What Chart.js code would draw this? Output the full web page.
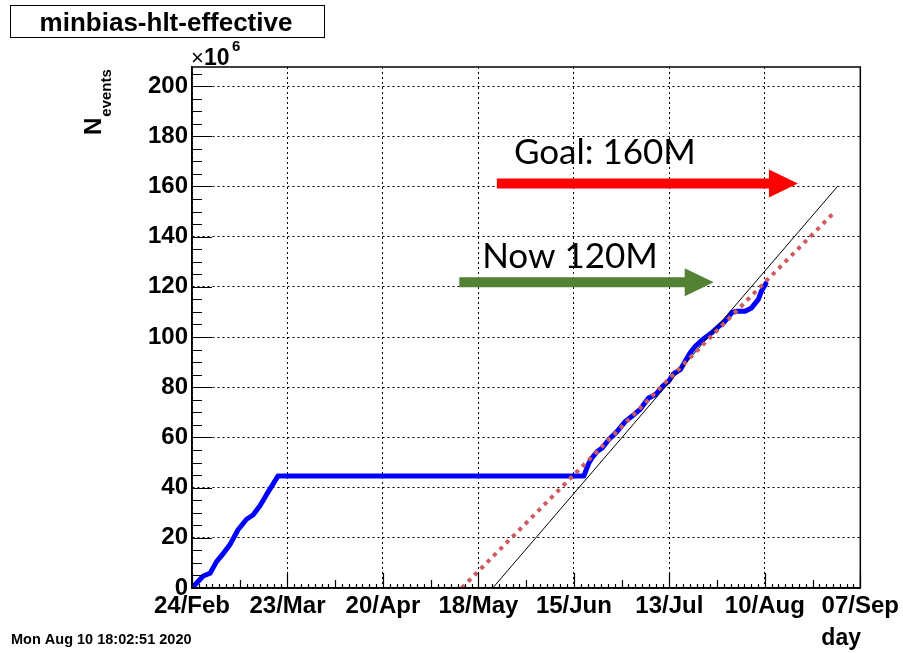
<!DOCTYPE html>
<html><head><meta charset="utf-8">
<script src="https://cdn.jsdelivr.net/npm/chart.js@4/dist/chart.umd.min.js"></script>
<style>html,body{margin:0;padding:0;background:#fff}#wrap{width:903px;height:653px;position:relative}</style>
</head><body><div id="wrap"><canvas id="c" width="903" height="653"></canvas></div>
<script>
// ---- data (x = days since 24/Feb/2020, y = events in units of 10^6) ----
const dateLabels = ['24/Feb','23/Mar','20/Apr','18/May','15/Jun','13/Jul','10/Aug','07/Sep'];
const yTickValues = [0,20,40,60,80,100,120,140,160,180,200];
const blueDays = [0,3.3,5.3,7.2,9.2,11.1,13.5,16.0,17.9,19.9,21.8,23.8,25.2,114.9,116.4,117.3,118.8,120.3,122.2,124.7,127.1,129.0,131.5,133.9,135.9,137.8,139.8,141.2,143.2,144.6,146.1,147.6,149.5,152.4,154.4,156.3,158.3,159.7,162.2,164.1,166.1,167.0,168.3];
const blueEvents = [0,4.8,5.9,10.5,13.8,17.2,23.2,27.4,29.1,32.7,37.1,41.5,44.6,44.6,49.8,51.8,54.4,55.8,59.1,62.4,66.4,68.4,71.3,75.7,77.0,80.1,82.4,85.3,87.0,90.3,93.7,96.3,98.7,101.7,104.1,106.3,109.7,110.3,110.3,111.6,115.0,118.3,121.3];
const goalLineDays = [88.2, 189.3];
const goalLineEvents = [0, 160];
const fitLineDays = [79.1, 188.3];
const fitLineEvents = [0, 149.6];
const arrowTexts = ['Goal: 160M', 'Now 120M'];
const arrowLevels = [161.2, 121.8];
const arrowStartDays = [89.4, 78.4];
const arrowEndDays = [177.7, 153.0];
const textDays = [94.4, 85.1];
const textLevels = [168.9, 127.6];
const titleText = 'minbias-hlt-effective';
const yTitleMain = 'N';
const yTitleSub = 'events';
const xTitle = 'day';
const stampText = 'Mon Aug 10 18:02:51 2020';

const toXY = (xs, ys) => xs.map((x, i) => ({x: x, y: ys[i]}));
const ROOTFONT = "'Liberation Sans', Arial, sans-serif";

const extrasPlugin = {
  id: 'extras',
  afterDraw(chart) {
    const ctx = chart.ctx;
    const a = chart.chartArea;
    const xs = chart.scales.x, ys = chart.scales.y;
    ctx.save();
    // frame
    ctx.strokeStyle = '#000';
    ctx.lineWidth = 1.5;
    ctx.strokeRect(a.left, a.top, a.right - a.left, a.bottom - a.top);
    // inward ticks
    ctx.lineWidth = 1.2;
    ctx.beginPath();
    for (let v = 0; v <= ys.max; v += 5) {
      const y = Math.round(ys.getPixelForValue(v)) + 0.5;
      const len = (v % 20 === 0) ? 20 : 10;
      ctx.moveTo(a.left, y); ctx.lineTo(a.left + len, y);
    }
    for (let d = 0; d <= xs.max; d += 2) {
      const x = Math.round(xs.getPixelForValue(d)) + 0.5;
      const len = (d % 28 === 0) ? 15 : (d % 14 === 0 ? 8 : 4);
      ctx.moveTo(x, a.bottom); ctx.lineTo(x, a.bottom - len);
    }
    ctx.stroke();

    // arrows + annotation texts
    const cols = ['#ff0000', '#548235'];
    for (let i = 0; i < arrowTexts.length; i++) {
      const x1 = xs.getPixelForValue(arrowStartDays[i]);
      const x2 = xs.getPixelForValue(arrowEndDays[i]);
      const y = ys.getPixelForValue(arrowLevels[i]);
      const hl = 29, hh = 14, sh = 5;
      ctx.fillStyle = cols[i];
      ctx.beginPath();
      ctx.moveTo(x1, y - sh); ctx.lineTo(x2 - hl, y - sh); ctx.lineTo(x2 - hl, y - hh);
      ctx.lineTo(x2, y); ctx.lineTo(x2 - hl, y + hh); ctx.lineTo(x2 - hl, y + sh);
      ctx.lineTo(x1, y + sh); ctx.closePath(); ctx.fill();
      ctx.fillStyle = '#000';
      ctx.font = "35px Lato, 'Open Sans', sans-serif";
      ctx.textAlign = 'left'; ctx.textBaseline = 'alphabetic';
      ctx.fillText(arrowTexts[i], xs.getPixelForValue(textDays[i]), ys.getPixelForValue(textLevels[i]));
    }

    // title box
    ctx.fillStyle = '#fff';
    ctx.fillRect(10, 5, 315, 33);
    ctx.strokeStyle = '#000'; ctx.lineWidth = 1;
    ctx.strokeRect(10.5, 5.5, 314, 32);
    ctx.fillStyle = '#000';
    ctx.font = "bold 26px " + ROOTFONT;
    ctx.textAlign = 'center'; ctx.textBaseline = 'alphabetic';
    ctx.fillText(titleText, 166, 31);

    // x10^6
    ctx.textAlign = 'left';
    ctx.font = "22px " + ROOTFONT;
    ctx.fillText('\u00d7', 191, 65);
    ctx.font = "bold 23px " + ROOTFONT;
    ctx.fillText('10', 204, 65);
    ctx.font = "bold 15px " + ROOTFONT;
    ctx.fillText('6', 232, 51);

    // y title rotated
    ctx.save();
    ctx.translate(101, 135);
    ctx.rotate(-Math.PI / 2);
    ctx.font = "bold 24px " + ROOTFONT;
    ctx.textAlign = 'left';
    ctx.fillText(yTitleMain, 0, 0);
    const wN = ctx.measureText(yTitleMain).width;
    ctx.font = "bold 15px " + ROOTFONT;
    ctx.fillText(yTitleSub, wN + 1, 10);
    ctx.restore();

    // x title
    ctx.font = "bold 23px " + ROOTFONT;
    ctx.textAlign = 'right';
    ctx.fillText(xTitle, 861, 645);

    // timestamp
    ctx.font = "bold 14.5px " + ROOTFONT;
    ctx.textAlign = 'left';
    ctx.fillText(stampText, 11, 644);
    ctx.restore();
  }
};

new Chart(document.getElementById('c'), {
  type: 'scatter',
  data: {
    datasets: [
      { label: 'fit', data: toXY(fitLineDays, fitLineEvents), showLine: true, borderColor: '#cd5c5c', borderWidth: 4, borderDash: [4, 5], pointRadius: 0, borderCapStyle: 'butt' },
      { label: 'goal', data: toXY(goalLineDays, goalLineEvents), showLine: true, borderColor: '#000000', borderWidth: 1, pointRadius: 0 },
      { label: 'minbias-hlt-effective', data: toXY(blueDays, blueEvents), showLine: true, borderColor: '#0000ff', borderWidth: 5, pointRadius: 0, borderJoinStyle: 'round', borderCapStyle: 'round' }
    ]
  },
  options: {
    responsive: false,
    animation: false,
    devicePixelRatio: 1,
    layout: { padding: { left: 0, right: 40, top: 67, bottom: 0 } },
    plugins: { legend: { display: false }, tooltip: { enabled: false }, title: { display: false } },
    scales: {
      x: {
        type: 'linear', min: 0, max: 196,
        afterBuildTicks: s => { s.ticks = dateLabels.map((l, i) => ({ value: i * 28 })); },
        afterFit: s => { s.height = 65; },
        ticks: { callback: (v, i) => dateLabels[i], color: '#000', font: { family: ROOTFONT, size: 24, weight: 'bold' }, padding: 4, maxRotation: 0, autoSkip: false },
        grid: { color: '#000', lineWidth: 1, drawTicks: false },
        border: { display: true, color: '#000', width: 1.5, dash: [2, 3] }
      },
      y: {
        type: 'linear', min: 0, max: 207.6,
        afterBuildTicks: s => { s.ticks = yTickValues.map(v => ({ value: v })); },
        afterFit: s => { s.width = 192; },
        ticks: { color: '#000', font: { family: ROOTFONT, size: 24, weight: 'bold' }, padding: 4 },
        grid: { color: '#000', lineWidth: 1, drawTicks: false },
        border: { display: true, color: '#000', width: 1.5, dash: [2, 3] }
      }
    }
  },
  plugins: [extrasPlugin]
});
</script>
</body></html>
